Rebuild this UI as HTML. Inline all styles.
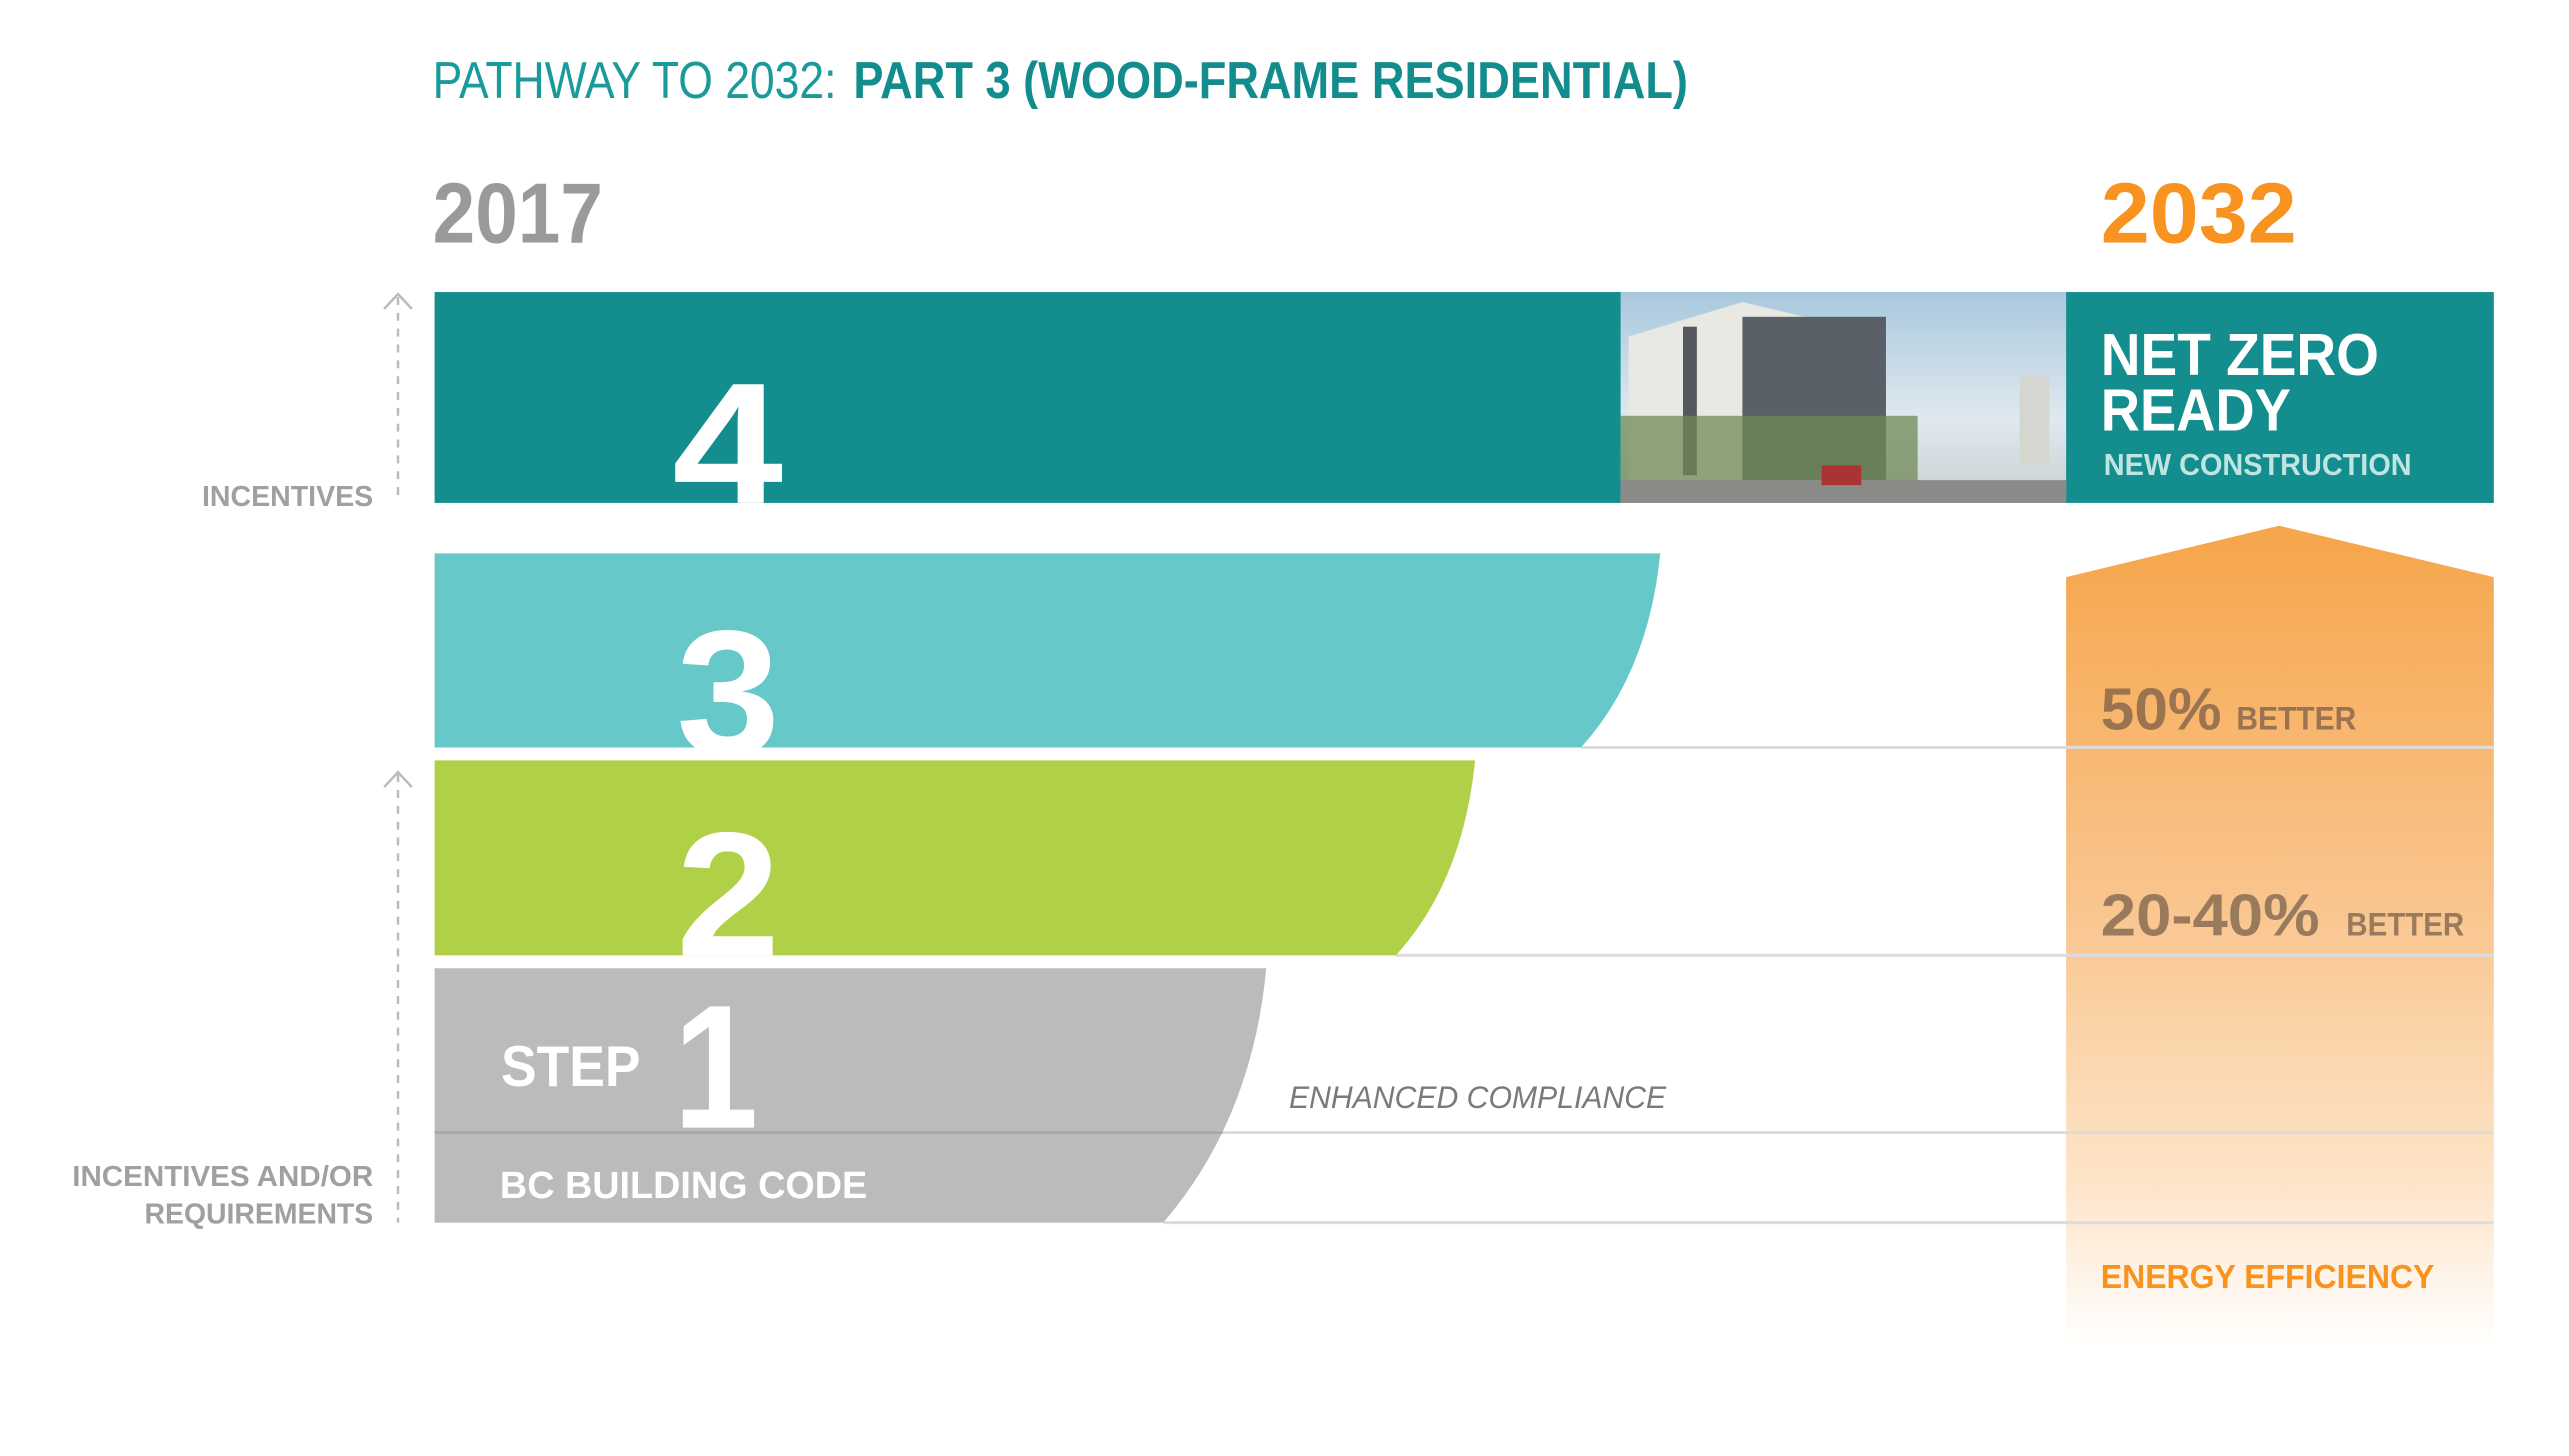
<!DOCTYPE html>
<html><head><meta charset="utf-8"><style>html,body{margin:0;padding:0;background:#fff}svg{display:block}</style></head>
<body>
<svg width="2569" height="1456" viewBox="0 0 2569 1456" xmlns="http://www.w3.org/2000/svg" font-family="Liberation Sans, sans-serif">
<defs>
<linearGradient id="og" x1="0" y1="0" x2="0" y2="1">
<stop offset="0" stop-color="#f6a54a"/>
<stop offset="0.45" stop-color="#f9c48c"/>
<stop offset="0.8" stop-color="#fde4c8"/>
<stop offset="1" stop-color="#ffffff"/>
</linearGradient>
<linearGradient id="sky" x1="0" y1="0" x2="0" y2="1">
<stop offset="0" stop-color="#a9c8de"/><stop offset="0.6" stop-color="#dfe9ef"/><stop offset="1" stop-color="#c9cfd2"/>
</linearGradient>
<clipPath id="c4"><rect x="439" y="295" width="1200" height="213"/></clipPath>
<clipPath id="c3"><rect x="439" y="559" width="1300" height="196"/></clipPath>
<clipPath id="c2"><rect x="439" y="768" width="1300" height="197"/></clipPath>
</defs>
<g transform="scale(0.99)">
<!-- title -->
<text x="437" y="99" font-size="52" fill="#1a9a9a" textLength="408" lengthAdjust="spacingAndGlyphs">PATHWAY TO 2032:</text>
<text x="862" y="99" font-size="52" font-weight="bold" fill="#128c8c" textLength="843" lengthAdjust="spacingAndGlyphs">PART 3 (WOOD-FRAME RESIDENTIAL)</text>

<text x="437" y="245" font-size="86" font-weight="bold" fill="#9a9a9a" textLength="172" lengthAdjust="spacingAndGlyphs">2017</text>
<text x="2122" y="245" font-size="86" font-weight="bold" fill="#f7931e" textLength="198" lengthAdjust="spacingAndGlyphs">2032</text>

<!-- orange arrow -->
<polygon points="2087,583 2302,531 2519,583 2519,1360 2087,1360" fill="url(#og)"/>

<!-- grid lines -->
<line x1="1597" y1="755" x2="2519" y2="755" stroke="#dcdcdc" stroke-width="3"/>
<line x1="1410" y1="965" x2="2519" y2="965" stroke="#dcdcdc" stroke-width="3"/>
<line x1="439" y1="1144" x2="2519" y2="1144" stroke="#dcdcdc" stroke-width="3"/>
<line x1="1175" y1="1235" x2="2519" y2="1235" stroke="#dcdcdc" stroke-width="3"/>

<!-- bar 4 -->
<rect x="439" y="295" width="2080" height="213" fill="#138d8d"/>
<rect x="1637" y="295" width="450" height="213" fill="url(#sky)"/>
<polygon points="1645,340 1760,305 1905,340 1905,480 1645,490" fill="#e9e9e3"/>
<rect x="1760" y="320" width="145" height="165" fill="#5a6068"/>
<rect x="1700" y="330" width="14" height="150" fill="#55595e"/>
<rect x="1637" y="420" width="300" height="70" fill="#6f8a55" opacity="0.75"/>
<rect x="2040" y="380" width="30" height="90" fill="#d6d6d0"/>
<rect x="1637" y="485" width="450" height="23" fill="#8a8a88"/>
<rect x="1840" y="470" width="40" height="20" fill="#a33"/>

<text x="2122" y="379" font-size="60" font-weight="bold" fill="#fff" textLength="281" lengthAdjust="spacingAndGlyphs">NET ZERO</text>
<text x="2122" y="435" font-size="60" font-weight="bold" fill="#fff" textLength="192" lengthAdjust="spacingAndGlyphs">READY</text>
<text x="2125" y="480" font-size="31" font-weight="bold" fill="#bfe5e3" textLength="311" lengthAdjust="spacingAndGlyphs">NEW CONSTRUCTION</text>
<text x="679" y="512" font-size="180" font-weight="bold" fill="#fff" clip-path="url(#c4)" textLength="112" lengthAdjust="spacingAndGlyphs">4</text>

<!-- bar 3 -->
<path d="M439,559 L1677,559 Q1665,680 1597,755 L439,755 Z" fill="#67c8ca"/>
<text x="683" y="762" font-size="180" font-weight="bold" fill="#fff" clip-path="url(#c3)" textLength="105" lengthAdjust="spacingAndGlyphs">3</text>

<!-- bar 2 -->
<path d="M439,768 L1490,768 Q1478,890 1410,965 L439,965 Z" fill="#b0d147"/>
<text x="683" y="966" font-size="180" font-weight="bold" fill="#fff" clip-path="url(#c2)" textLength="105" lengthAdjust="spacingAndGlyphs">2</text>

<!-- bar 1 -->
<path d="M439,978 L1279,978 Q1265,1130 1175,1235 L439,1235 Z" fill="#bcbbbb"/>
<line x1="439" y1="1144" x2="1235" y2="1144" stroke="#a9a9a9" stroke-width="3"/>
<text x="506" y="1097" font-size="58" font-weight="bold" fill="#fff" textLength="141" lengthAdjust="spacingAndGlyphs">STEP</text>
<text x="680" y="1139" font-size="178" font-weight="bold" fill="#fff" textLength="86" lengthAdjust="spacingAndGlyphs">1</text>
<text x="505" y="1210" font-size="38" font-weight="bold" fill="#fff" textLength="371" lengthAdjust="spacingAndGlyphs">BC BUILDING CODE</text>
<text x="1302" y="1119" font-size="32" font-style="italic" fill="#7a7a7a" textLength="381" lengthAdjust="spacingAndGlyphs">ENHANCED COMPLIANCE</text>

<!-- right labels -->
<text x="2122" y="737" font-size="60" font-weight="bold" fill="#9a7350" textLength="122" lengthAdjust="spacingAndGlyphs">50%</text>
<text x="2259" y="737" font-size="33" font-weight="bold" fill="#9a7350" textLength="121" lengthAdjust="spacingAndGlyphs">BETTER</text>
<text x="2122" y="945" font-size="60" font-weight="bold" fill="#9a7a5c" textLength="221" lengthAdjust="spacingAndGlyphs">20-40%</text>
<text x="2370" y="945" font-size="33" font-weight="bold" fill="#9a7a5c" textLength="119" lengthAdjust="spacingAndGlyphs">BETTER</text>
<text x="2122" y="1301" font-size="34" font-weight="bold" fill="#f7931e" textLength="337" lengthAdjust="spacingAndGlyphs">ENERGY EFFICIENCY</text>

<!-- left axis -->
<line x1="402" y1="300" x2="402" y2="505" stroke="#bbb" stroke-width="2.5" stroke-dasharray="8,8"/>
<polyline points="388,312 402,297 416,312" fill="none" stroke="#bbb" stroke-width="2.5"/>
<line x1="402" y1="782" x2="402" y2="1235" stroke="#bbb" stroke-width="2.5" stroke-dasharray="8,8"/>
<polyline points="388,795 402,780 416,795" fill="none" stroke="#bbb" stroke-width="2.5"/>
<text x="204" y="511" font-size="29" font-weight="bold" fill="#a0a0a0" textLength="173" lengthAdjust="spacingAndGlyphs">INCENTIVES</text>
<text x="73" y="1198" font-size="29" font-weight="bold" fill="#a0a0a0" textLength="304" lengthAdjust="spacingAndGlyphs">INCENTIVES AND/OR</text>
<text x="146" y="1236" font-size="29" font-weight="bold" fill="#a0a0a0" textLength="231" lengthAdjust="spacingAndGlyphs">REQUIREMENTS</text>
</g>
</svg>
</body></html>
